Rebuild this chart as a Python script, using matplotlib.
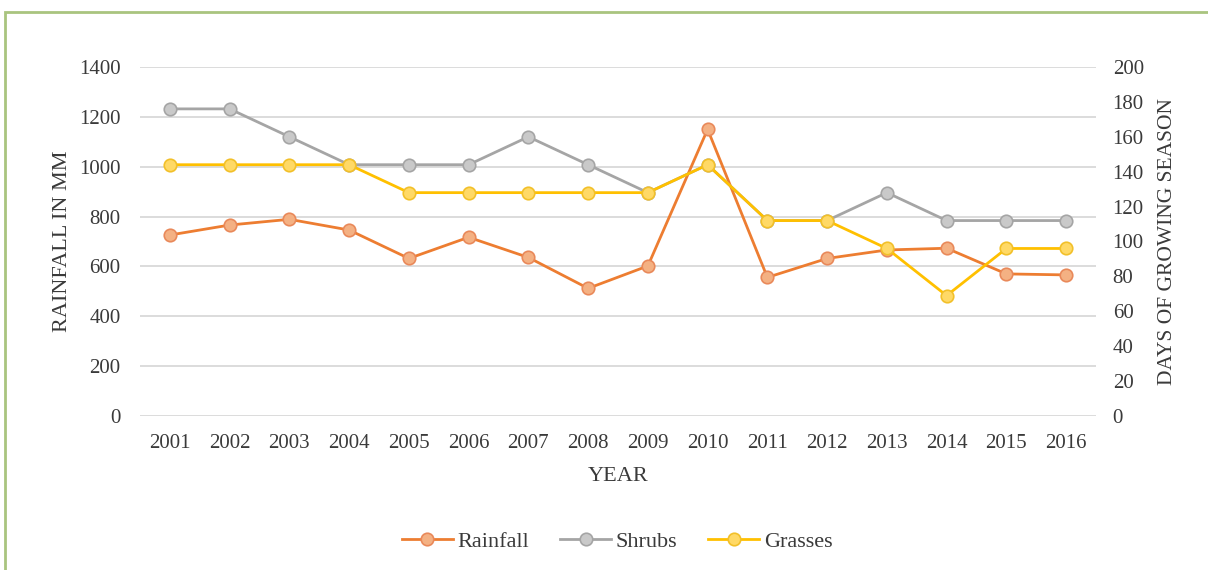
import matplotlib
matplotlib.use("Agg")
import matplotlib.pyplot as plt
from matplotlib.patches import Rectangle

years = ["2001", "2002", "2003", "2004", "2005", "2006", "2007", "2008",
         "2009", "2010", "2011", "2012", "2013", "2014", "2015", "2016"]
rainfall = [726, 766, 789, 746, 632, 717, 636, 512, 602, 1150, 556, 632, 666, 673, 570, 566]
shrubs = [176, 176, 160, 144, 144, 144, 160, 144, 128, 144, 112, 112, 128, 112, 112, 112]
grasses = [144, 144, 144, 144, 128, 128, 128, 128, 128, 144, 112, 112, 96, 69, 96, 96]

left_ticks = [0, 200, 400, 600, 800, 1000, 1200, 1400]
right_ticks = [0, 20, 40, 60, 80, 100, 120, 140, 160, 180, 200]

plt.rcParams['font.family'] = ['Liberation Serif', 'DejaVu Serif']

W, H = 1208, 570
fig = plt.figure(figsize=(W / 100, H / 100), dpi=100)
fig.patch.set_facecolor('white')

# green frame around the chart
fig.patches.append(Rectangle((5 / W, -0.05), 1.2, 1 - 12 / H + 0.05, transform=fig.transFigure,
                             fill=False, edgecolor='#A9C47F', linewidth=2.0, zorder=0))

ax = fig.add_axes([140 / W, 1 - 416 / H, (1096 - 140) / W, (416 - 67) / H])
ax2 = ax.twinx()

x = list(range(len(years)))
txt_col = '#3a3a3a'
fs = 15

l1, = ax.plot(x, rainfall, color='#ED7D31', lw=2.0, marker='o', ms=9,
              mfc='#F4B183', mec='#E9895A', mew=1.2, label='Rainfall', zorder=3)
l2, = ax2.plot(x, shrubs, color='#A5A5A5', lw=2.0, marker='o', ms=9,
               mfc='#C9C9C9', mec='#A5A5A5', mew=1.2, label='Shrubs', zorder=3)
l3, = ax2.plot(x, grasses, color='#FFC000', lw=2.0, marker='o', ms=9,
               mfc='#FFD966', mec='#F2C02A', mew=1.2, label='Grasses', zorder=4)

ax.set_xlim(-0.5, len(years) - 0.5)
ax.set_ylim(0, 1400)
ax2.set_ylim(0, 200)
ax.set_yticks(left_ticks)
ax2.set_yticks(right_ticks)
ax.set_xticks(x)
ax.set_xticklabels(years)

ax.grid(axis='y', color='#D9D9D9', lw=1.3)
ax.set_axisbelow(True)
for a in (ax, ax2):
    for s in a.spines.values():
        s.set_visible(False)
    a.tick_params(length=0, labelsize=fs, labelcolor=txt_col)
ax.tick_params(axis='y', pad=14)
ax2.tick_params(axis='y', pad=12)
ax.tick_params(axis='x', pad=13)

ax.set_ylabel('RAINFALL IN MM', fontsize=16, color=txt_col, labelpad=5)
ax2.set_ylabel('DAYS OF GROWING SEASON', fontsize=15.5, color=txt_col, labelpad=10)
ax.set_xlabel('YEAR', fontsize=16, color=txt_col, labelpad=10)

fig.legend(handles=[l1, l2, l3], loc='center', bbox_to_anchor=(617 / W, 1 - 542 / H),
           ncol=3, frameon=False, fontsize=16, handlelength=2.3, columnspacing=1.4,
           handletextpad=0.2, labelcolor=txt_col)

fig.savefig('out.png', dpi=100, facecolor='white')
